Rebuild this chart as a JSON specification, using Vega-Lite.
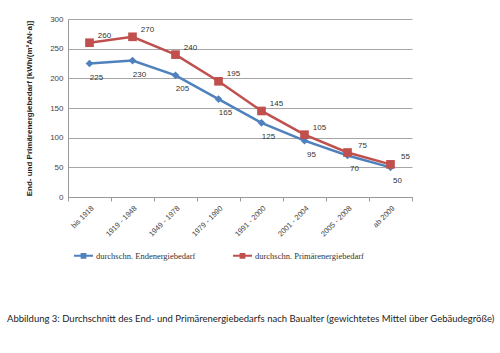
{
  "$schema": "https://vega.github.io/schema/vega-lite/v6.json",
  "width": 344,
  "height": 178,
  "autosize": {"type": "none"},
  "padding": {"left": 68, "top": 19, "right": 88, "bottom": 156},
  "background": "white",
  "config": {"view": {"stroke": null}, "font": "Liberation Sans"},
  "title": {
    "text": "Abbildung 3: Durchschnitt des End- und Primärenergiebedarfs nach Baualter (gewichtetes Mittel über Gebäudegröße)",
    "orient": "bottom",
    "anchor": "start",
    "frame": "group",
    "dx": -61,
    "offset": 52,
    "font": "Lato",
    "fontSize": 9.5,
    "fontWeight": "normal",
    "color": "#222"
  },
  "data": {
    "values": [
      {"period": "bis 1918", "series": "durchschn. Endenergiebedarf", "value": 225},
      {"period": "1919 - 1948", "series": "durchschn. Endenergiebedarf", "value": 230},
      {"period": "1949 - 1978", "series": "durchschn. Endenergiebedarf", "value": 205},
      {"period": "1979 - 1990", "series": "durchschn. Endenergiebedarf", "value": 165},
      {"period": "1991 - 2000", "series": "durchschn. Endenergiebedarf", "value": 125},
      {"period": "2001 - 2004", "series": "durchschn. Endenergiebedarf", "value": 95},
      {"period": "2005 - 2008", "series": "durchschn. Endenergiebedarf", "value": 70},
      {"period": "ab 2009", "series": "durchschn. Endenergiebedarf", "value": 50},
      {"period": "bis 1918", "series": "durchschn. Primärenergiebedarf", "value": 260},
      {"period": "1919 - 1948", "series": "durchschn. Primärenergiebedarf", "value": 270},
      {"period": "1949 - 1978", "series": "durchschn. Primärenergiebedarf", "value": 240},
      {"period": "1979 - 1990", "series": "durchschn. Primärenergiebedarf", "value": 195},
      {"period": "1991 - 2000", "series": "durchschn. Primärenergiebedarf", "value": 145},
      {"period": "2001 - 2004", "series": "durchschn. Primärenergiebedarf", "value": 105},
      {"period": "2005 - 2008", "series": "durchschn. Primärenergiebedarf", "value": 75},
      {"period": "ab 2009", "series": "durchschn. Primärenergiebedarf", "value": 55}
    ]
  },
  "encoding": {
    "x": {
      "field": "period",
      "type": "nominal",
      "sort": null,
      "scale": {"type": "band", "paddingInner": 0, "paddingOuter": 0},
      "axis": {
        "title": null,
        "labelAngle": -45,
        "labelFontSize": 7.5,
        "labelColor": "#444",
        "labelPadding": 3,
        "tickBand": "extent",
        "tickSize": 4,
        "tickColor": "#999",
        "domainColor": "#999",
        "grid": false
      }
    },
    "y": {
      "field": "value",
      "type": "quantitative",
      "scale": {"domain": [0, 300], "nice": false},
      "axis": {
        "values": [0, 50, 100, 150, 200, 250, 300],
        "title": "End- und Primärenergiebedarf [kWh/(m²AN·a)]",
        "titleFontSize": 8,
        "titleFontWeight": "bold",
        "titleColor": "#222",
        "titleX": -39,
        "titleY": 89,
        "titleBaseline": "middle",
        "labelFontSize": 8,
        "labelColor": "#444",
        "labelPadding": 5,
        "ticks": false,
        "grid": true,
        "gridColor": "#a6a6a6",
        "domainColor": "#999"
      }
    },
    "color": {
      "field": "series",
      "type": "nominal",
      "scale": {
        "domain": ["durchschn. Endenergiebedarf", "durchschn. Primärenergiebedarf"],
        "range": ["#4f81bd", "#c0504d"]
      },
      "legend": {
        "title": null,
        "orient": "none",
        "legendX": 5,
        "legendY": 226,
        "direction": "horizontal",
        "columns": 2,
        "columnPadding": 33,
        "symbolType": "M-1,0H1M-0.2,-0.2H0.2V0.2H-0.2Z",
        "symbolSize": 361,
        "symbolStrokeWidth": 2,
        "labelFont": "Liberation Serif",
        "labelFontSize": 8.5,
        "labelColor": "#333",
        "labelOffset": 2
      }
    }
  },
  "layer": [
    {"mark": {"type": "line", "strokeWidth": 2.5}},
    {
      "transform": [{"filter": "datum.series == 'durchschn. Endenergiebedarf'"}],
      "mark": {"type": "point", "filled": true, "opacity": 1, "size": 60, "shape": "diamond"}
    },
    {
      "transform": [{"filter": "datum.series == 'durchschn. Primärenergiebedarf'"}],
      "mark": {"type": "point", "filled": true, "opacity": 1, "size": 75, "shape": "square"}
    },
    {
      "transform": [{"filter": "datum.series == 'durchschn. Primärenergiebedarf'"}],
      "mark": {"type": "text", "dx": 15, "dy": -7, "fontSize": 8, "font": "Liberation Sans"},
      "encoding": {"text": {"field": "value"}, "color": {"value": "#333"}}
    },
    {
      "transform": [{"filter": "datum.series == 'durchschn. Endenergiebedarf'"}],
      "mark": {"type": "text", "dx": 7, "dy": 14, "fontSize": 8, "font": "Liberation Sans"},
      "encoding": {"text": {"field": "value"}, "color": {"value": "#333"}}
    }
  ]
}
